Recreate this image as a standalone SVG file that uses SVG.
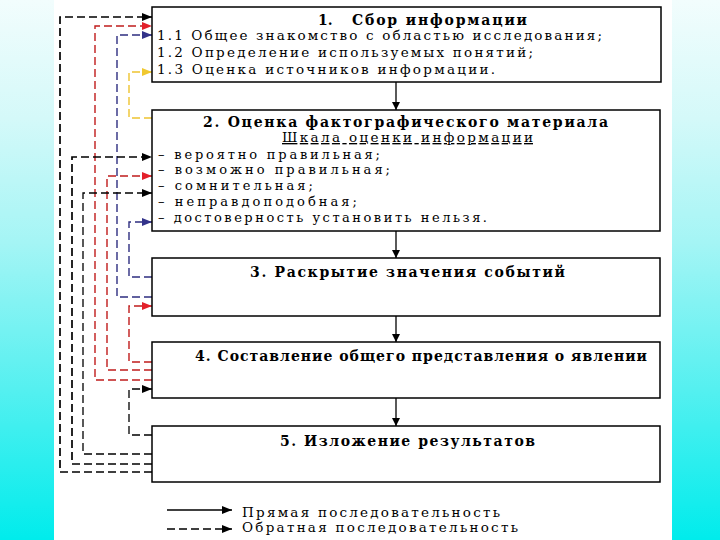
<svg xmlns="http://www.w3.org/2000/svg" width="720" height="540" viewBox="0 0 720 540">
<defs>
<linearGradient id="bg" x1="0" y1="0" x2="0" y2="1">
<stop offset="0" stop-color="#f2fdfd"/>
<stop offset="0.22" stop-color="#d4f9f9"/>
<stop offset="0.45" stop-color="#a4f5f5"/>
<stop offset="0.72" stop-color="#55f0f0"/>
<stop offset="1" stop-color="#00ecec"/>
</linearGradient>
<marker id="mk" viewBox="0 0 10 8" refX="10" refY="4" markerWidth="11" markerHeight="8" markerUnits="userSpaceOnUse" orient="auto"><path d="M0,0 L10,4 L0,8 z" fill="#000"/></marker>
<marker id="mr" viewBox="0 0 10 8" refX="10" refY="4" markerWidth="11" markerHeight="8" markerUnits="userSpaceOnUse" orient="auto"><path d="M0,0 L10,4 L0,8 z" fill="#e3202a"/></marker>
<marker id="mn" viewBox="0 0 10 8" refX="10" refY="4" markerWidth="11" markerHeight="8" markerUnits="userSpaceOnUse" orient="auto"><path d="M0,0 L10,4 L0,8 z" fill="#33338a"/></marker>
<marker id="my" viewBox="0 0 10 8" refX="10" refY="4" markerWidth="11" markerHeight="8" markerUnits="userSpaceOnUse" orient="auto"><path d="M0,0 L10,4 L0,8 z" fill="#f0c830"/></marker>
<marker id="md" viewBox="0 0 8 8" refX="8" refY="4" markerWidth="8" markerHeight="8" markerUnits="userSpaceOnUse" orient="auto"><path d="M0,0 L8,4 L0,8 z" fill="#000"/></marker>
<style>
.box{fill:#fff;stroke:#000;stroke-width:1.5}
.t{font-family:"DejaVu Serif","Liberation Serif",serif;font-size:13.5px;fill:#000}
.b{font-weight:bold;font-size:14px}
.li{font-size:13px}
.fb{fill:none;stroke-dasharray:8 4}
.k{stroke:#000;stroke-width:1.7;marker-end:url(#mk)}
.r{stroke:#c01c1c;stroke-width:1.4;marker-end:url(#mr)}
.n{stroke:#2e2e80;stroke-width:1.4;marker-end:url(#mn)}
.y{stroke:#eec430;stroke-width:1.4;marker-end:url(#my)}
.dn{stroke:#000;stroke-width:1.3;fill:none;marker-end:url(#md)}
</style>
</defs>
<rect x="0" y="0" width="720" height="540" fill="url(#bg)"/>
<rect x="54" y="0" width="618" height="540" fill="#fff"/>

<g id="connectors">
<path class="fb k" d="M152,472 H60 V17 H152"/>
<path class="fb r" d="M152,380 H95 V26 H152"/>
<path class="fb n" d="M152,297 H117 V35 H152"/>
<path class="fb y" d="M152,118 H129 V72 H152"/>
<path class="fb k" d="M152,464 H72 V157 H152"/>
<path class="fb r" d="M152,370 H107 V176 H152"/>
<path class="fb k" style="stroke-width:1.3" d="M152,454 H83 V193 H152"/>
<path class="fb n" d="M152,277 H129 V222 H152"/>
<path class="fb r" d="M152,362 H129 V306 H152"/>
<path class="fb k" style="stroke-width:1.3" d="M152,435 H129 V389 H152"/>
<path class="dn" d="M396,82 V110"/>
<path class="dn" d="M396,231 V258"/>
<path class="dn" d="M396,316 V342"/>
<path class="dn" d="M396,398 V426"/>
</g>

<g id="node1">
<rect class="box" x="152" y="7" width="509" height="75"/>
<text class="t b" y="25"><tspan x="318">1.</tspan><tspan x="352" textLength="175" lengthAdjust="spacing">Сбор информации</tspan></text>
<text class="t" x="157" y="40" textLength="445" lengthAdjust="spacing">1.1 Общее знакомство с областью исследования;</text>
<text class="t" x="157" y="57" textLength="376" lengthAdjust="spacing">1.2 Определение используемых понятий;</text>
<text class="t" x="157" y="74" textLength="338" lengthAdjust="spacing">1.3 Оценка источников информации.</text>
</g>

<g id="node2">
<rect class="box" x="152" y="110" width="508" height="121"/>
<text class="t b" x="203" y="127" textLength="405" lengthAdjust="spacing">2. Оценка фактографического материала</text>
<text class="t" x="282" y="142" textLength="251" lengthAdjust="spacing" text-decoration="underline">Шкала оценки информации</text>
<text class="t li" x="158" y="158.5" textLength="222" lengthAdjust="spacing">– вероятно правильная;</text>
<text class="t li" x="158" y="174" textLength="232" lengthAdjust="spacing">– возможно правильная;</text>
<text class="t li" x="158" y="190" textLength="155" lengthAdjust="spacing">– сомнительная;</text>
<text class="t li" x="158" y="206" textLength="199" lengthAdjust="spacing">– неправдоподобная;</text>
<text class="t li" x="158" y="222" textLength="329" lengthAdjust="spacing">– достоверность установить нельзя.</text>
</g>

<g id="node3">
<rect class="box" x="152" y="258" width="508" height="58"/>
<text class="t b" x="250" y="277" textLength="315" lengthAdjust="spacing">3. Раскрытие значения событий</text>
</g>

<g id="node4">
<rect class="box" x="152" y="342" width="508" height="56"/>
<text class="t b" x="195" y="361" textLength="452" lengthAdjust="spacing">4. Составление общего представления о явлении</text>
</g>

<g id="node5">
<rect class="box" x="152" y="426" width="508" height="56"/>
<text class="t b" x="280" y="446" textLength="255" lengthAdjust="spacing">5. Изложение результатов</text>
</g>

<g id="legend">
<path d="M167,510 H232" stroke="#000" stroke-width="1.3" fill="none" marker-end="url(#mk)"/>
<path d="M167,529 H232" stroke="#000" stroke-width="1.5" fill="none" stroke-dasharray="8 4" marker-end="url(#mk)"/>
<text class="t" x="242" y="517" textLength="258" lengthAdjust="spacing">Прямая последовательность</text>
<text class="t" x="242" y="532" textLength="276" lengthAdjust="spacing">Обратная последовательность</text>
</g>
</svg>
